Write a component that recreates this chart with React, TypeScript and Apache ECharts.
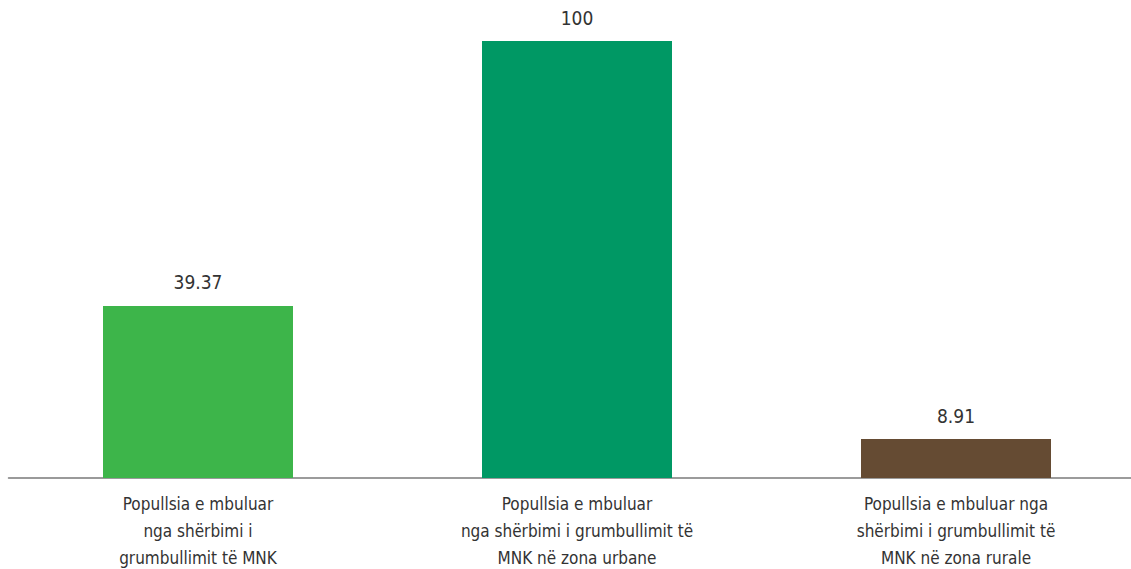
import React, { useEffect, useRef } from "react";
import * as echarts from "echarts";

const categories = [
  "Popullsia e mbuluar\nnga shërbimi i\ngrumbullimit të MNK",
  "Popullsia e mbuluar\nnga shërbimi i grumbullimit të\nMNK në zona urbane",
  "Popullsia e mbuluar nga\nshërbimi i grumbullimit të\nMNK në zona rurale",
];
const values = [39.37, 100, 8.91];
const valueLabels = ["39.37", "100", "8.91"];
const colors = ["#3db54a", "#009864", "#654b33"];

const FONT = "'DejaVu Sans Condensed', 'Liberation Sans Narrow', sans-serif";

export default function App() {
  const ref = useRef<HTMLDivElement>(null);
  useEffect(() => {
    if (!ref.current) return;
    const chart = echarts.init(ref.current, undefined, { renderer: "svg" });
    chart.setOption({
      animation: false,
      grid: { left: 8.5, top: 41, width: 1137, height: 437, containLabel: false, outerBoundsMode: "none" },
      xAxis: {
        type: "category",
        data: categories,
        axisLine: { show: true, lineStyle: { color: "#7a7a7a", width: 1.5 } },
        axisTick: { show: false },
        axisLabel: {
          interval: 0,
          color: "#333333",
          fontFamily: FONT,
          fontSize: 17,
          lineHeight: 27,
          margin: 12,
          align: "center",
        },
      },
      yAxis: {
        type: "value",
        min: 0,
        max: 100,
        show: false,
        splitLine: { show: false },
      },
      series: [
        {
          type: "bar",
          barWidth: 190,
          data: values.map((v, i) => ({ value: v, itemStyle: { color: colors[i] } })),
          label: {
            show: true,
            position: "top",
            distance: 14,
            color: "#333333",
            fontFamily: FONT,
            fontSize: 19,
            formatter: (p: any) => valueLabels[p.dataIndex],
          },
        },
      ],
    });
    return () => chart.dispose();
  }, []);
  return (
    <div style={{ position: "absolute", left: 0, top: 0, width: 1131, height: 569, overflow: "hidden", background: "#ffffff" }}>
      <div ref={ref} style={{ width: 1160, height: 569 }} />
    </div>
  );
}
